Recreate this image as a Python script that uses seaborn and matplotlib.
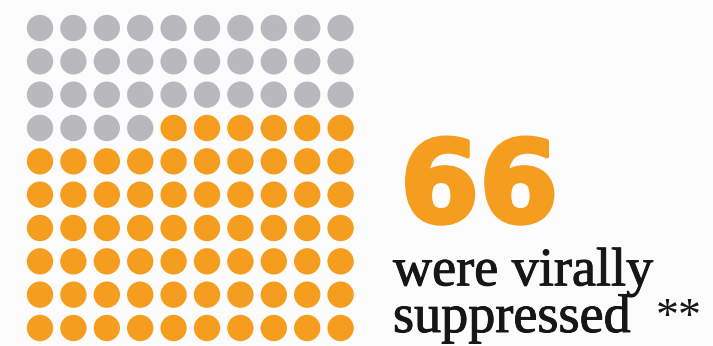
import matplotlib
matplotlib.use("Agg")
import matplotlib.pyplot as plt
import matplotlib.patheffects as pe
import seaborn as sns
import pandas as pd
import numpy as np

# Out of every 100 people, how many were virally suppressed
total = 100
suppressed = 66
n_cols = 10
headline = "66"
caption_lines = ["were virally", "suppressed"]
footnote_mark = "**"

grey = "#b9b8bd"
orange = "#f59d1e"
ink = "#161616"
bg = "#fcfcfc"

# Build the 10x10 unit grid; the last `suppressed` cells are filled orange
idx = np.arange(total)
status = np.where(idx >= total - suppressed, "suppressed", "other")
df = pd.DataFrame({
    "col": idx % n_cols,
    "row": idx // n_cols,
    "status": status,
})

sns.set_theme(style="white")
fig = plt.figure(figsize=(7.13, 3.46), dpi=100, facecolor=bg)

# Grid of dots on the left
ax = fig.add_axes([23.3 / 713, 0, 334 / 713, 1])
ax.set_facecolor(bg)
sns.scatterplot(
    data=df, x="col", y="row", hue="status",
    palette={"other": grey, "suppressed": orange},
    s=360, linewidth=0, legend=False, ax=ax,
)
ax.set_xlim(-0.5, n_cols - 0.5)
ax.set_ylim(n_cols - 1 + 0.54, -0.84)
ax.set_axis_off()

# Text block on the right
fig.text(400 / 713, 1 - 222 / 346, headline, color=orange,
         fontsize=82, fontfamily="DejaVu Sans", fontweight="bold",
         ha="left", va="baseline",
         path_effects=[pe.withStroke(linewidth=3, foreground=orange)])
# Two-line caption; with va="baseline" the anchor is the last line's baseline
fig.text(393 / 713, 1 - 332 / 346, "\n".join(caption_lines), color=ink,
         fontsize=39, fontfamily="Liberation Serif", linespacing=0.9,
         ha="left", va="baseline", multialignment="left",
         path_effects=[pe.withStroke(linewidth=0.7, foreground=ink)])
fig.text(656 / 713, 1 - 330 / 346, footnote_mark, color=ink,
         fontsize=33, fontfamily="Liberation Serif",
         ha="left", va="baseline")

fig.savefig("out.png", dpi=100, facecolor=bg)
